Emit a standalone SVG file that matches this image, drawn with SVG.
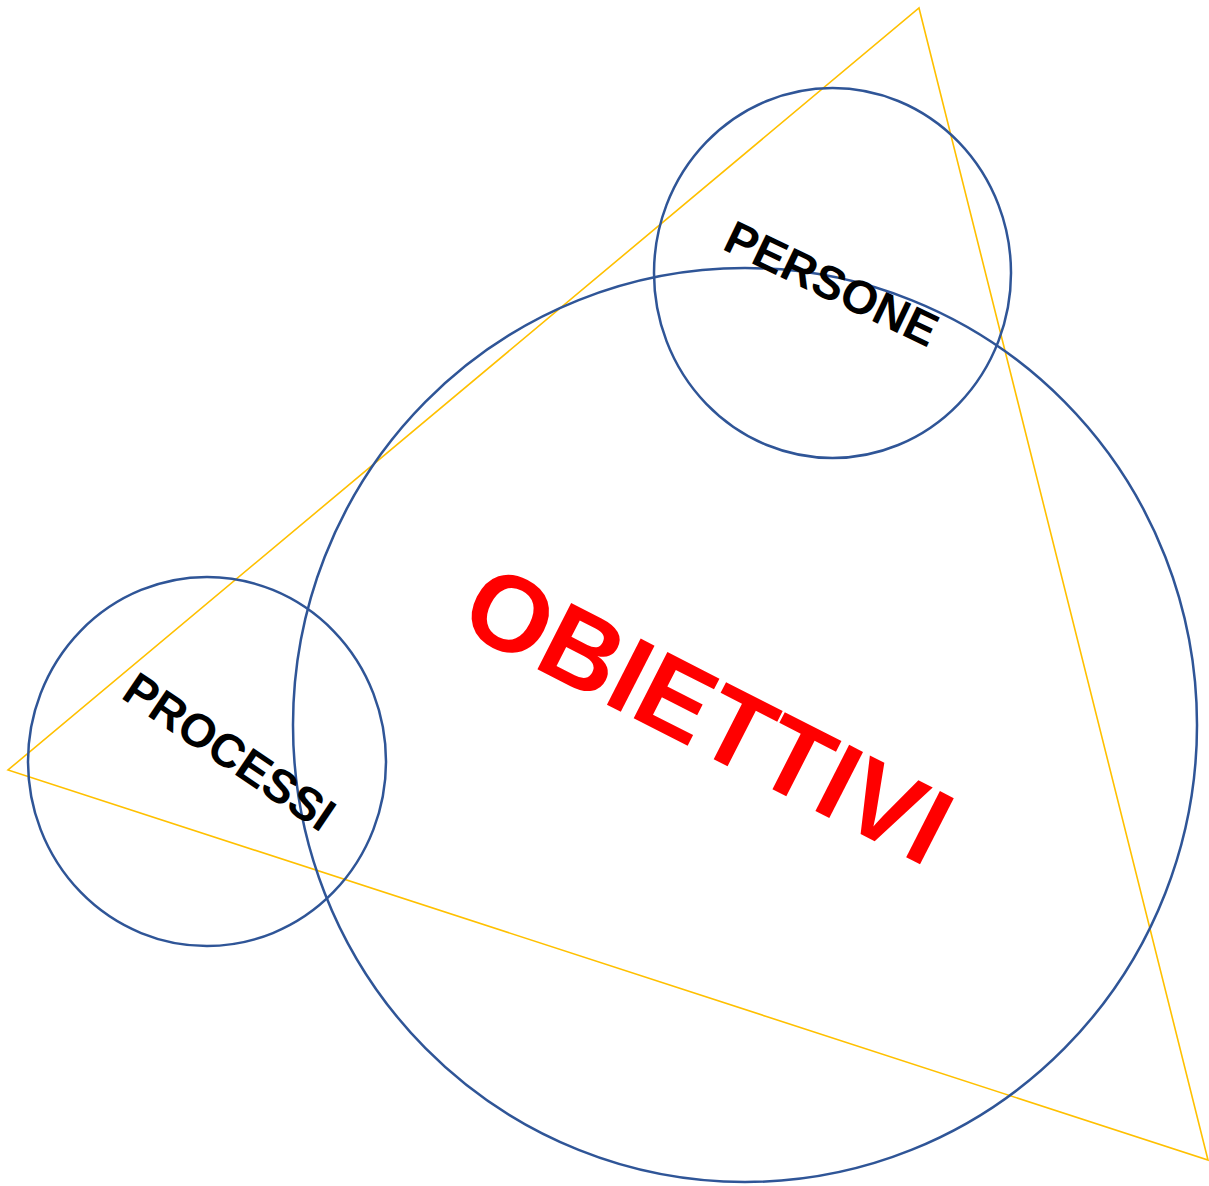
<svg xmlns="http://www.w3.org/2000/svg" width="1209" height="1186" viewBox="0 0 1209 1186">
<style>
.c{fill:none;stroke:#2F5597;stroke-width:2.5}
.t{font-family:"Liberation Sans",Arial,sans-serif;font-weight:bold;text-anchor:middle}
</style>
<rect width="1209" height="1186" fill="#fff"/>
<g id="triangle"><polygon points="919,8 1208,1160 8,770" fill="none" stroke="#FFC000" stroke-width="1.6"/></g>
<g id="obiettivi"><ellipse class="c" cx="745" cy="725" rx="452" ry="457"/>
<text class="t" x="709" y="752" font-size="108" fill="#FF0000" transform="rotate(27 709 713)">OBIETTIVI</text></g>
<g id="persone"><ellipse class="c" cx="832.5" cy="273" rx="178.5" ry="185"/>
<text class="t" x="832" y="300" font-size="47" fill="#000" transform="rotate(25.5 832 283)">PERSONE</text></g>
<g id="processi"><ellipse class="c" cx="207" cy="761.5" rx="179" ry="184.5"/>
<text class="t" x="230" y="768" font-size="47" fill="#000" transform="rotate(34 230 751)">PROCESSI</text></g>
<g id="connectors"></g>
</svg>
